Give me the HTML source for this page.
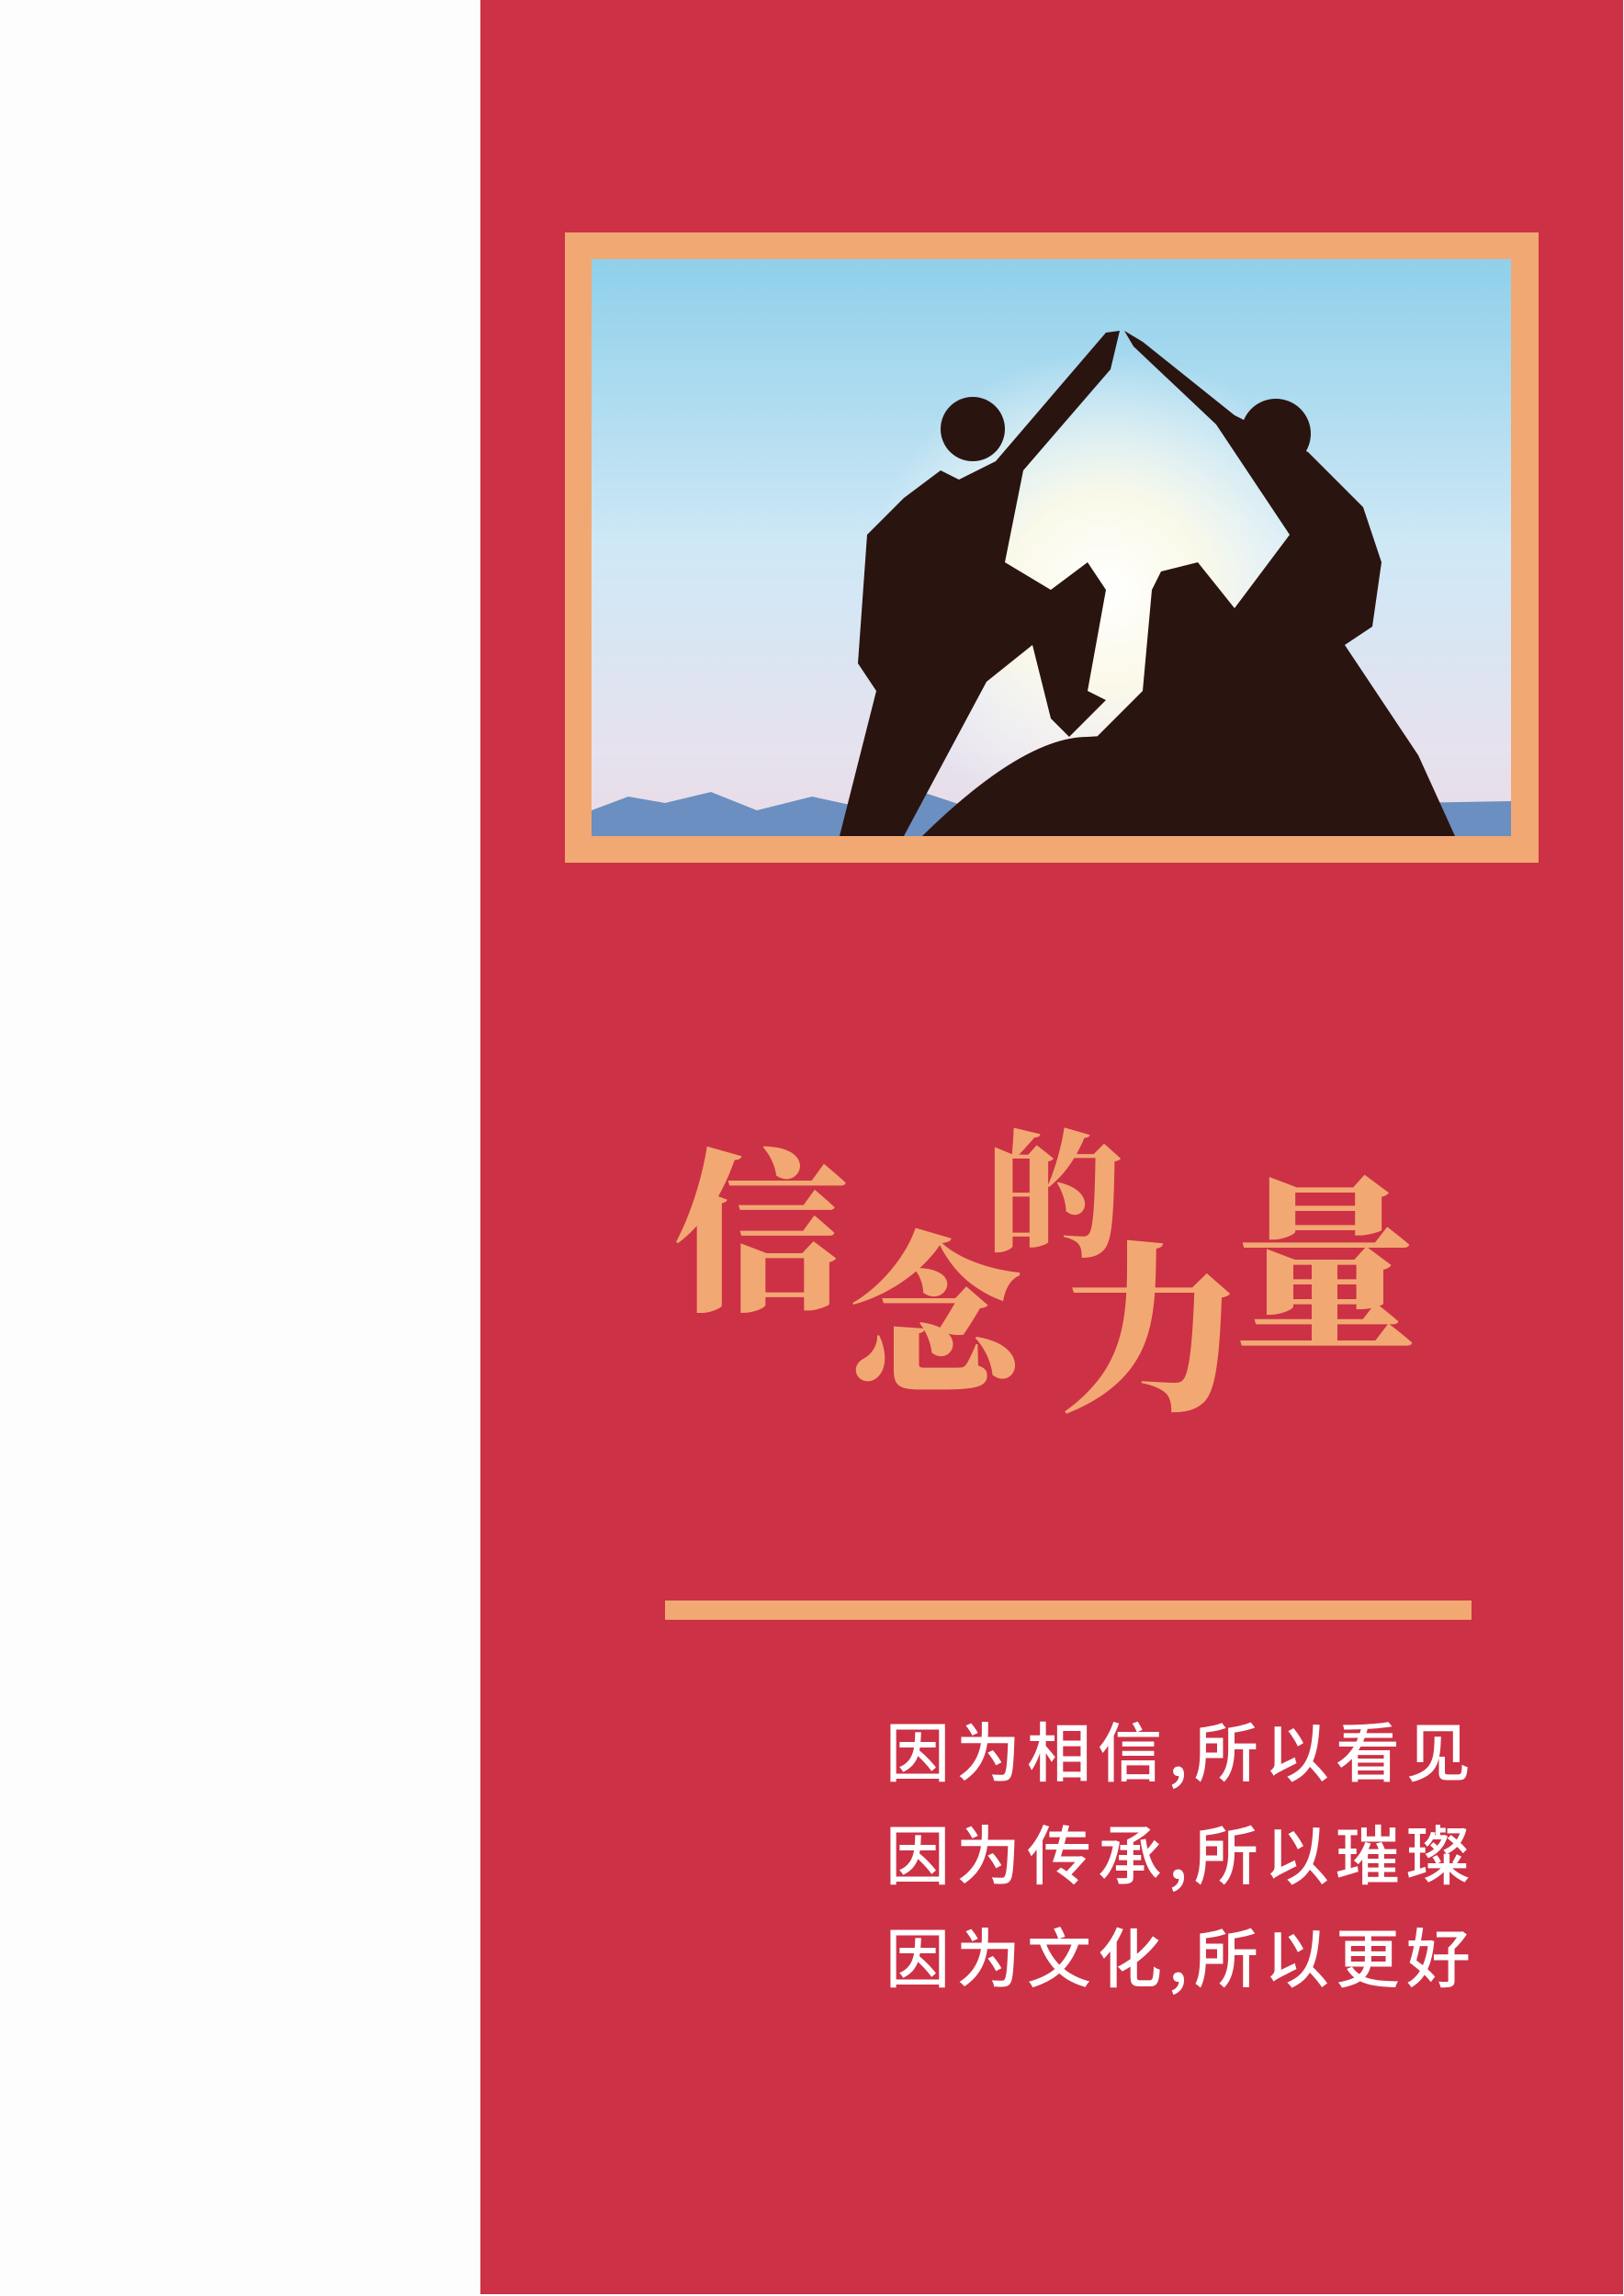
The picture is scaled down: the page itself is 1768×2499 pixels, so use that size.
<!DOCTYPE html>
<html><head><meta charset="utf-8"><style>
body{margin:0;width:1768px;height:2499px;background:#fdfdfd;position:relative;overflow:hidden;font-family:"Liberation Sans","Noto Sans CJK SC",sans-serif}
.panel{position:absolute;left:523px;top:0;width:1244px;height:2497px;background:#cd3145}
.frame{position:absolute;left:615px;top:253px;width:1060px;height:686px;background:#f2a873}
.photo{position:absolute;left:644px;top:282px;width:1001px;height:628px;overflow:hidden;background:linear-gradient(#8fd0ea,#cfe8f6 50%,#e6e2ee 85%,#e8dbe6)}
.title{position:absolute;left:733px;top:1215px;width:830px;height:330px;color:#f2a873;font-family:"Noto Serif CJK SC",serif;font-weight:900}
.title span{position:absolute;font-size:190px;line-height:1}
.line{position:absolute;left:724px;top:1742px;width:878px;height:21px;background:#f2a873}
.txt{position:absolute;left:964px;color:#fff;font-family:"Noto Sans CJK SC",sans-serif;font-weight:500;font-size:70px;line-height:1;white-space:nowrap;letter-spacing:7px}
</style></head><body>
<div class="panel"></div>
<div class="frame"></div>
<div class="photo">
<svg width="1001" height="628" viewBox="0 0 1001 628">
<defs><radialGradient id="sun" cx="0.5" cy="0.5" r="0.5"><stop offset="0" stop-color="#fff"/><stop offset="0.4" stop-color="#fffbe8" stop-opacity="0.9"/><stop offset="1" stop-color="#fff" stop-opacity="0"/></radialGradient></defs>
<circle cx="560" cy="360" r="260" fill="url(#sun)"/>
<path d="M0 600 L40 585 L80 592 L130 580 L180 600 L240 585 L300 598 L360 580 L420 600 L1001 590 L1001 628 L0 628Z" fill="#6a8fc0"/>
<g fill="#2a1410">
<path d="M270 628 L310 470 L290 440 L300 300 L340 260 L380 230 L400 240 L440 220 L560 80 L575 78 L565 120 L470 230 L450 330 L500 360 L540 330 L560 360 L540 470 L560 480 L520 520 L500 500 L480 420 L430 460 L340 628Z"/>
<circle cx="415" cy="185" r="35"/>
<path d="M620 628 L560 560 L530 540 L600 470 L610 360 L620 340 L660 330 L700 380 L760 300 L680 180 L590 95 L580 78 L600 90 L700 170 L780 210 L840 270 L860 330 L850 400 L820 420 L900 540 L940 628Z"/>
<circle cx="745" cy="190" r="38"/>
<path d="M360 628 Q470 520 540 520 Q640 510 700 628Z"/>
</g>
</svg>
</div>
<div class="title">
<span style="left:0;top:20px">信</span><span style="left:190px;top:110px">念</span><span style="left:340px;top:0;font-size:150px">的</span><span style="left:420px;top:120px;font-size:200px">力</span><span style="left:610px;top:50px;font-size:200px">量</span>
</div>
<div class="line"></div>
<div class="txt" style="top:1869px">因为相信,所以看见</div>
<div class="txt" style="top:1981px">因为传承,所以璀璨</div>
<div class="txt" style="top:2093px">因为文化,所以更好</div>
</body></html>
